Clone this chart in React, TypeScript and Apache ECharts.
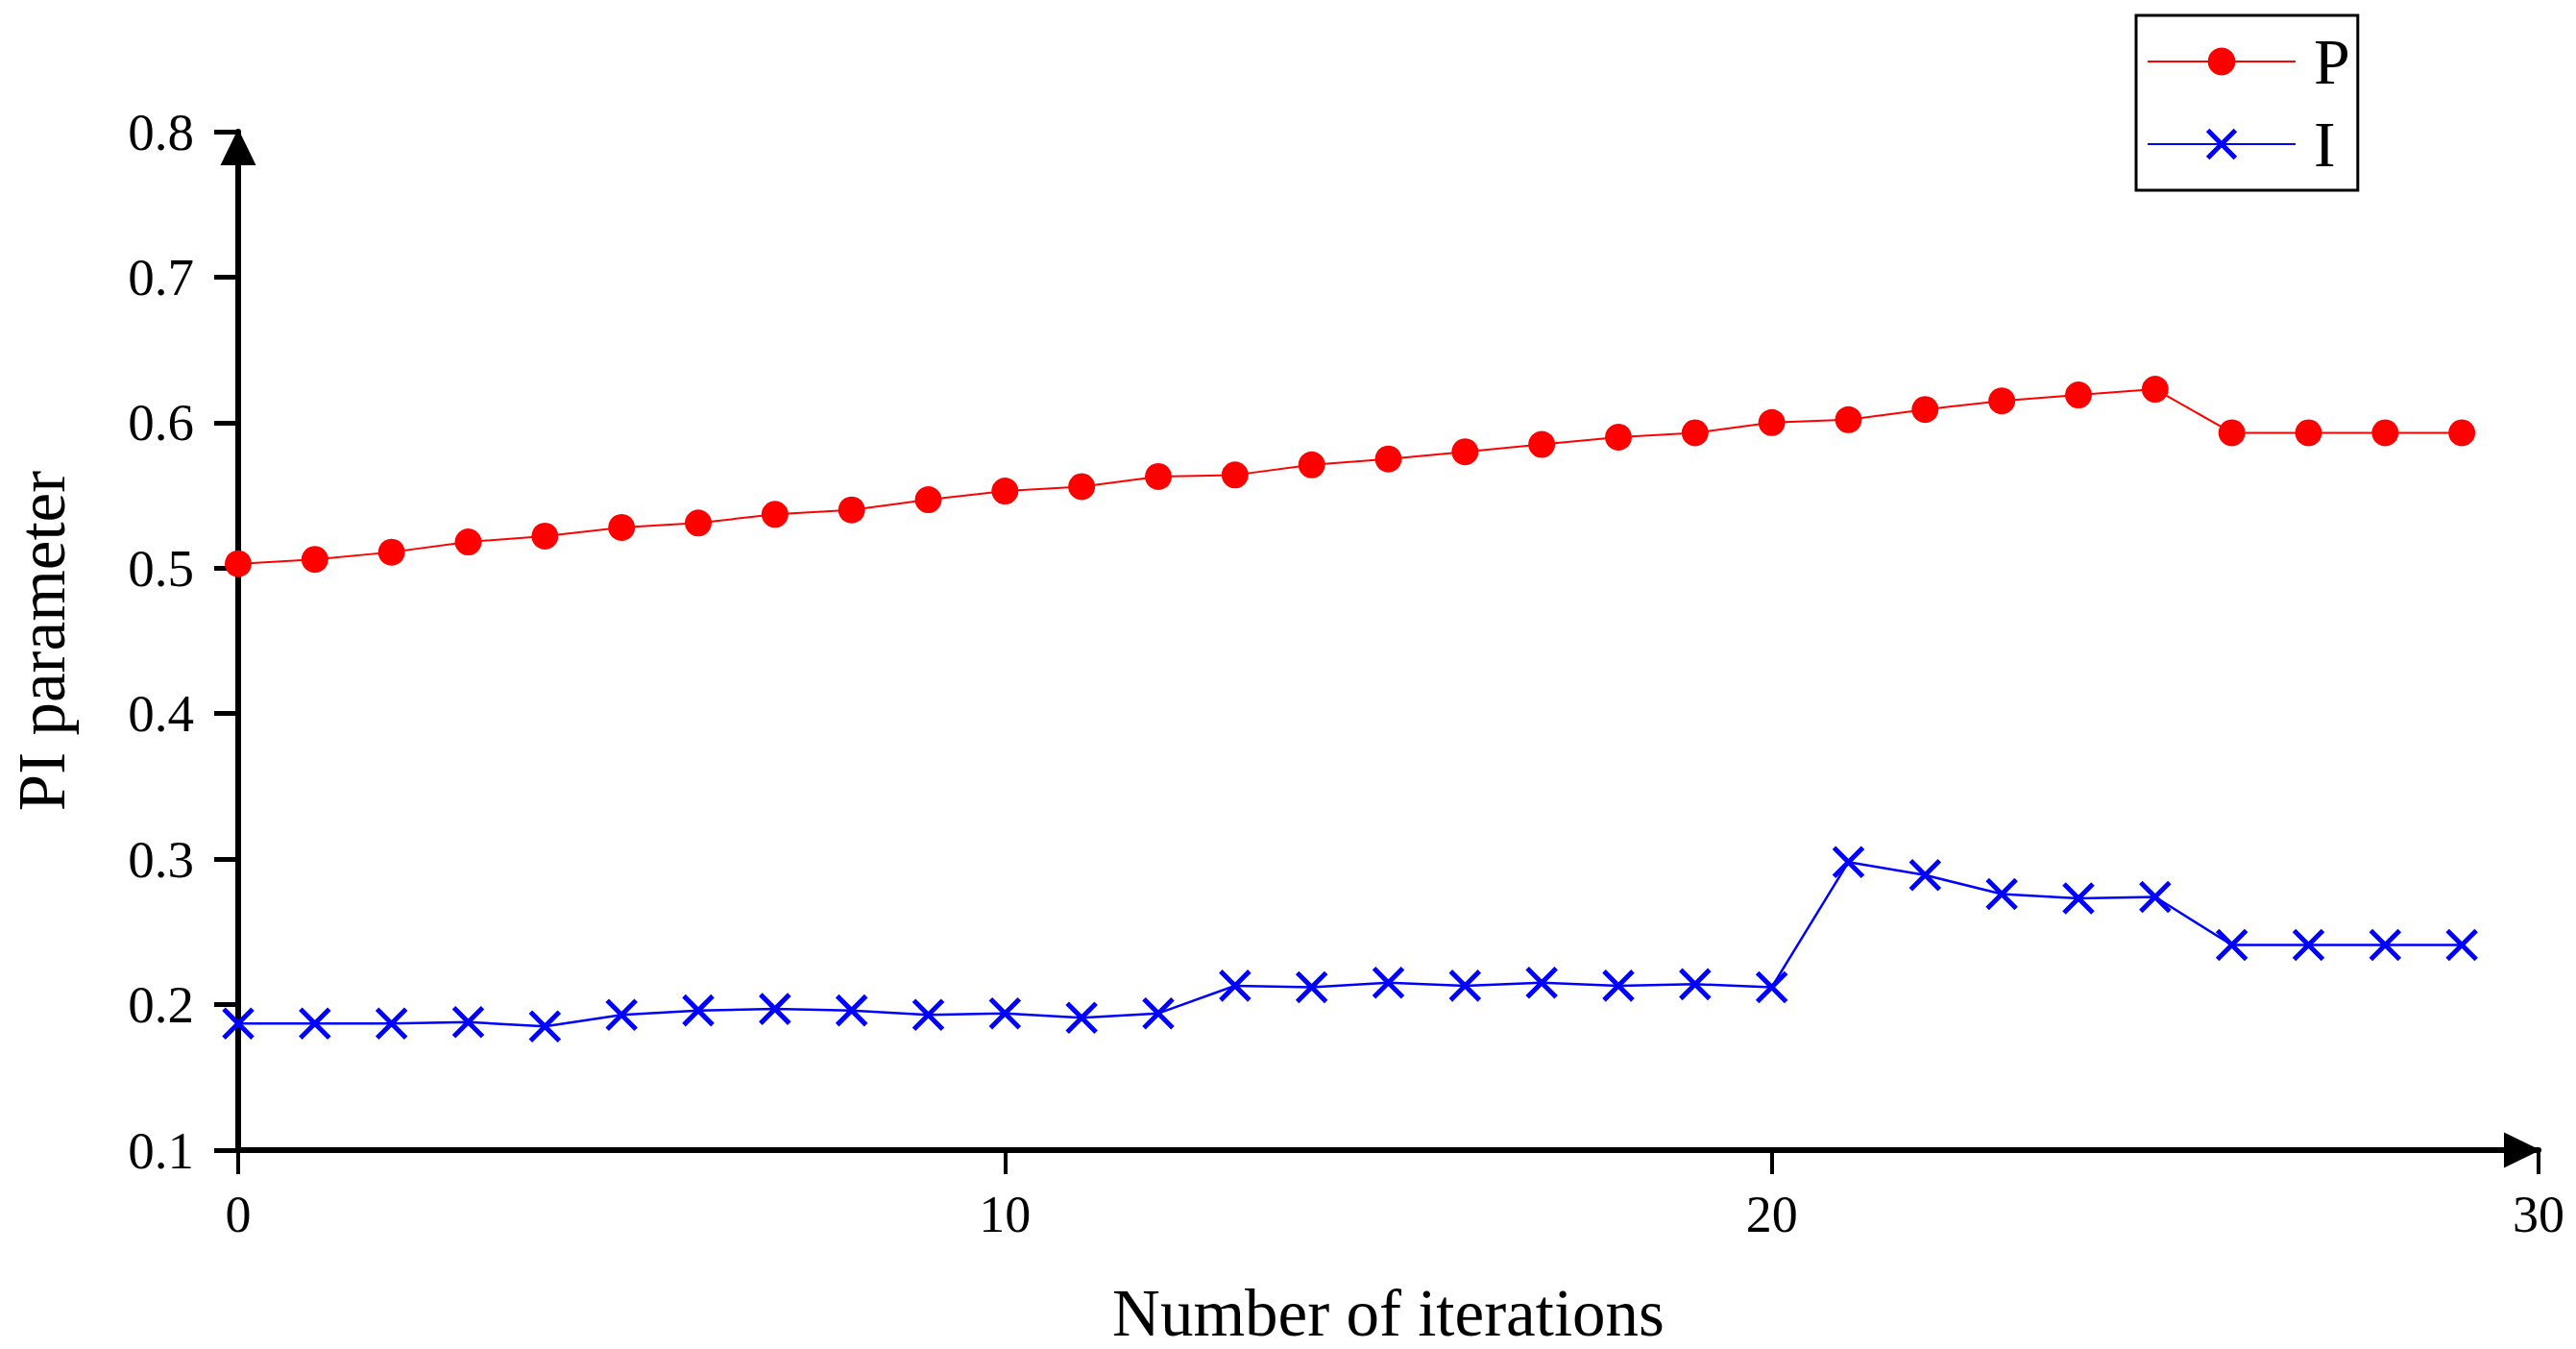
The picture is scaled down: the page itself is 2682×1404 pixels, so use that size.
import React, { useEffect, useRef } from "react";
import * as echarts from "echarts";

const iterations = [0, 1, 2, 3, 4, 5, 6, 7, 8, 9, 10, 11, 12, 13, 14, 15, 16, 17, 18, 19, 20, 21, 22, 23, 24, 25, 26, 27, 28, 29];
const pValues = [0.503, 0.506, 0.511, 0.518, 0.522, 0.528, 0.531, 0.537, 0.540, 0.547, 0.553, 0.556, 0.563, 0.564, 0.571, 0.575, 0.580, 0.585, 0.590, 0.593, 0.600, 0.602, 0.609, 0.615, 0.619, 0.623, 0.593, 0.593, 0.593, 0.593];
const iValues = [0.187, 0.187, 0.187, 0.188, 0.185, 0.193, 0.196, 0.197, 0.196, 0.193, 0.194, 0.191, 0.194, 0.213, 0.212, 0.215, 0.213, 0.215, 0.213, 0.214, 0.212, 0.298, 0.289, 0.276, 0.273, 0.274, 0.241, 0.241, 0.241, 0.241];
const seriesNames = ["P", "I"];
const xTitle = "Number of iterations";
const yTitle = "PI parameter";

const FONT = "'Liberation Serif', 'Times New Roman', serif";

export default function App() {
  const ref = useRef<HTMLDivElement>(null);
  useEffect(() => {
    document.body.style.margin = "0";
    document.body.style.overflow = "hidden";
    const chart = echarts.init(ref.current!, null, { renderer: "svg" });
    const cross = "path://M0,0L10,10M10,0L0,10";
    chart.setOption({
      animation: false,
      backgroundColor: "#ffffff",
      textStyle: { fontFamily: FONT },
      grid: { left: 248, right: 39, top: 137, bottom: 207, outerBoundsMode: "none" },
      legend: {
        orient: "vertical",
        left: 2224,
        top: 16,
        padding: [14, 8, 14, 11],
        itemWidth: 154,
        itemHeight: 36,
        itemGap: 18,
        borderColor: "#000",
        borderWidth: 3,
        textStyle: { fontFamily: FONT, fontSize: 68, color: "#000", lineHeight: 68, padding: [0, 0, 0, 14] },
        data: [
          { name: seriesNames[0] },
          { name: seriesNames[1], itemStyle: { color: "#0000ff", borderColor: "#0000ff", borderWidth: 5 } },
        ],
      },
      xAxis: {
        type: "value",
        min: 0,
        max: 30,
        interval: 10,
        name: xTitle,
        nameLocation: "middle",
        nameGap: 135,
        nameTextStyle: { fontFamily: FONT, fontSize: 69, color: "#000" },
        splitLine: { show: false },
        axisLine: {
          show: true,
          lineStyle: { color: "#000", width: 6 },
          symbol: ["none", "triangle"],
          symbolSize: [37, 38],
          symbolOffset: [0, -17],
        },
        axisTick: { show: true, inside: false, length: 25, lineStyle: { color: "#000", width: 4 } },
        axisLabel: { fontFamily: FONT, fontSize: 54, color: "#000", margin: 40 },
      },
      yAxis: {
        type: "value",
        min: 0.1,
        max: 0.8,
        interval: 0.1,
        name: yTitle,
        nameLocation: "middle",
        nameGap: 170,
        nameTextStyle: { fontFamily: FONT, fontSize: 69, color: "#000" },
        splitLine: { show: false },
        axisLine: {
          show: true,
          lineStyle: { color: "#000", width: 6 },
          symbol: ["none", "triangle"],
          symbolSize: [37, 38],
          symbolOffset: [0, -16],
        },
        axisTick: { show: true, inside: false, length: 25, lineStyle: { color: "#000", width: 5 } },
        axisLabel: {
          fontFamily: FONT,
          fontSize: 55,
          color: "#000",
          margin: 46,
          formatter: (v: number) => v.toFixed(1),
        },
      },
      series: [
        {
          name: seriesNames[0],
          type: "line",
          data: iterations.map((x, i) => [x, pValues[i]]),
          symbol: "circle",
          symbolSize: 28,
          itemStyle: { color: "#ff0000" },
          lineStyle: { color: "#ff0000", width: 2 },
          z: 3,
        },
        {
          name: seriesNames[1],
          type: "line",
          data: iterations.map((x, i) => [x, iValues[i]]),
          symbol: cross,
          symbolSize: 30,
          itemStyle: { color: "#0000ff", borderColor: "#0000ff", borderWidth: 5 },
          lineStyle: { color: "#0000ff", width: 2.5 },
          z: 3,
        },
      ],
    });
    return () => chart.dispose();
  }, []);
  return (
    <div
      ref={ref}
      style={{ position: "absolute", left: 0, top: 0, width: 2682, height: 1404 }}
    />
  );
}
